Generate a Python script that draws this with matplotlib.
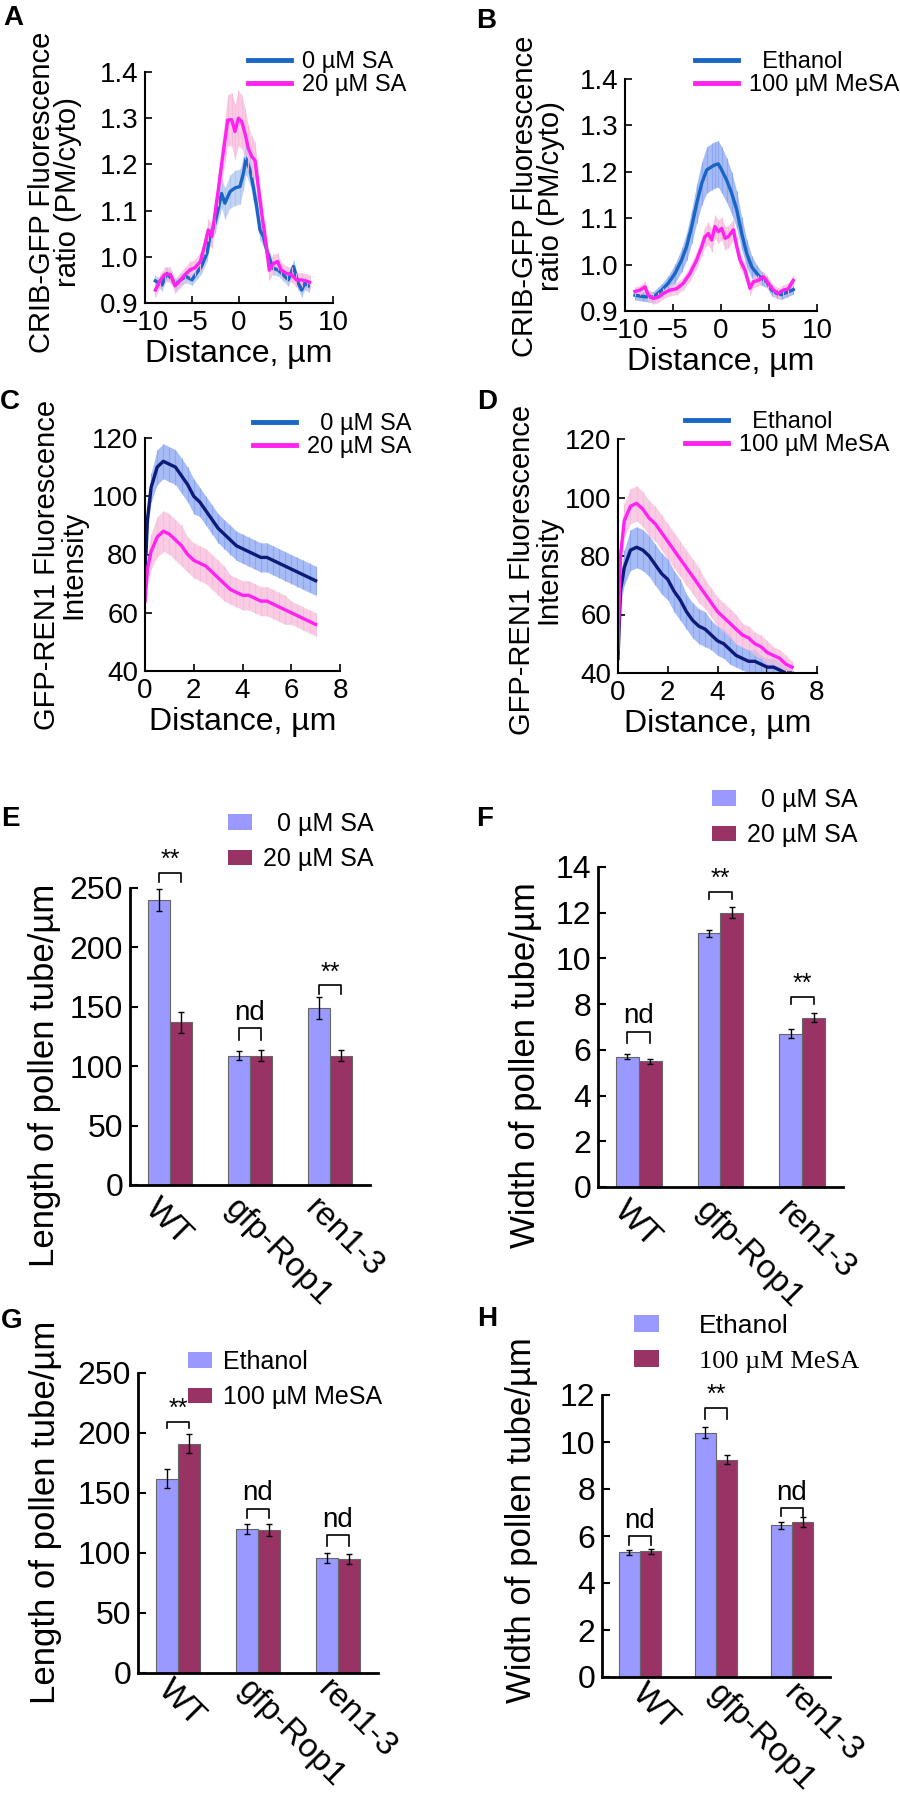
import matplotlib
matplotlib.use("Agg")
import matplotlib.pyplot as plt
from matplotlib.lines import Line2D
from matplotlib.patches import Patch
import matplotlib.transforms as mtransforms
import numpy as np

plt.rcParams['font.family'] = ['Liberation Sans', 'DejaVu Sans']
plt.rcParams['mathtext.default'] = 'regular'

# ---------------- data ----------------
# Panel A (CRIB-GFP ratio, SA)
a_x_blue = [-8.9, -8.2, -7.7, -7.2, -6.7, -6.1, -5.6, -5.0, -4.5, -4.0, -3.4, -3.1, -2.55, -2.0, -1.85, -1.5,
            -0.96, -0.43, 0.1, 0.46, 0.74, 1.17, 1.52, 1.88, 2.23, 2.59, 2.94, 3.3, 3.65, 4.2, 4.7, 5.25, 5.8,
            6.3, 6.67, 7.0, 7.4]
a_y_blue = [0.948, 0.939, 0.964, 0.953, 0.941, 0.952, 0.957, 0.950, 0.965, 0.979, 1.008, 1.044, 1.073, 1.123,
            1.137, 1.116, 1.141, 1.149, 1.152, 1.180, 1.213, 1.188, 1.152, 1.108, 1.058, 1.044, 1.015, 0.993,
            0.975, 0.971, 0.961, 0.950, 0.979, 0.943, 0.928, 0.943, 0.937]
a_e_blue = [0.012, 0.012, 0.014, 0.012, 0.012, 0.012, 0.013, 0.012, 0.014, 0.016, 0.018, 0.02, 0.022, 0.03,
            0.032, 0.034, 0.036, 0.038, 0.038, 0.036, 0.035, 0.032, 0.03, 0.026, 0.022, 0.02, 0.018, 0.016,
            0.014, 0.013, 0.013, 0.014, 0.014, 0.014, 0.015, 0.014, 0.013]
a_x_pink = [-8.9, -8.4, -7.9, -7.3, -6.8, -6.3, -5.7, -5.2, -4.7, -4.1, -3.6, -3.26, -2.9, -2.55, -2.2, -1.84,
            -1.49, -1.2, -0.78, -0.43, -0.07, 0.28, 0.64, 0.99, 1.35, 1.7, 2.05, 2.41, 2.77, 3.22, 3.65, 4.1,
            4.5, 5.07, 5.6, 6.1, 6.67, 7.2, 7.5]
a_y_pink = [0.928, 0.948, 0.962, 0.962, 0.937, 0.948, 0.962, 0.972, 0.976, 0.990, 1.029, 1.058, 1.044, 1.094,
            1.145, 1.202, 1.253, 1.296, 1.297, 1.271, 1.300, 1.293, 1.267, 1.235, 1.217, 1.209, 1.152, 1.094,
            1.044, 0.971, 0.985, 0.990, 0.971, 0.964, 0.961, 0.950, 0.950, 0.947, 0.945]
a_e_pink = [0.015, 0.015, 0.016, 0.016, 0.016, 0.016, 0.017, 0.018, 0.018, 0.02, 0.022, 0.024, 0.026, 0.03,
            0.035, 0.042, 0.048, 0.055, 0.058, 0.06, 0.06, 0.058, 0.055, 0.05, 0.045, 0.04, 0.035, 0.03,
            0.026, 0.022, 0.02, 0.018, 0.017, 0.016, 0.016, 0.016, 0.016, 0.016, 0.015]

# Panel B (CRIB-GFP ratio, MeSA)
b_x_blue = [-8.96, -8.09, -7.05, -6.18, -5.49, -4.79, -4.1, -3.58, -3.05, -2.53, -2.01, -1.49, -0.97, -0.63,
            -0.28, 0.07, 0.59, 1.11, 1.64, 2.16, 2.68, 3.2, 3.72, 4.24, 4.76, 5.28, 5.8, 6.32, 6.84, 7.53]
b_y_blue = [0.934, 0.931, 0.930, 0.945, 0.960, 0.981, 1.010, 1.039, 1.082, 1.132, 1.175, 1.204, 1.211, 1.215,
            1.217, 1.204, 1.182, 1.154, 1.118, 1.067, 1.024, 0.995, 0.981, 0.970, 0.963, 0.945, 0.938, 0.935,
            0.940, 0.946]
b_e_blue = [0.01, 0.01, 0.012, 0.014, 0.016, 0.02, 0.025, 0.03, 0.036, 0.042, 0.046, 0.05, 0.05, 0.05,
            0.05, 0.05, 0.048, 0.045, 0.04, 0.035, 0.03, 0.024, 0.018, 0.015, 0.012, 0.012, 0.01, 0.01,
            0.01, 0.01]
b_x_pink = [-8.96, -8.44, -7.92, -7.57, -7.05, -6.53, -6.0, -5.31, -4.62, -3.92, -3.23, -2.53, -2.01, -1.67,
            -1.32, -0.97, -0.63, -0.28, 0.07, 0.42, 0.76, 1.28, 1.64, 1.98, 2.5, 3.02, 3.37, 3.89, 4.41, 4.93,
            5.45, 5.97, 6.49, 7.01, 7.53]
b_y_pink = [0.942, 0.945, 0.952, 0.934, 0.927, 0.930, 0.938, 0.945, 0.948, 0.960, 0.981, 1.010, 1.039, 1.060,
            1.067, 1.053, 1.082, 1.071, 1.078, 1.057, 1.060, 1.075, 1.039, 1.010, 0.988, 0.949, 0.963, 0.966,
            0.974, 0.960, 0.945, 0.938, 0.945, 0.948, 0.966]
b_e_pink = [0.01, 0.01, 0.012, 0.012, 0.012, 0.012, 0.012, 0.012, 0.013, 0.014, 0.016, 0.018, 0.02, 0.022,
            0.024, 0.025, 0.025, 0.025, 0.025, 0.025, 0.024, 0.022, 0.02, 0.018, 0.016, 0.014, 0.013, 0.012,
            0.012, 0.012, 0.012, 0.012, 0.012, 0.012, 0.012]

# Panels C, D (GFP-REN1 intensity)
cd_x = [0.0, 0.1, 0.25, 0.5, 0.75, 1.0, 1.25, 1.5, 1.75, 2.0, 2.25, 2.5, 2.75, 3.0, 3.25, 3.5, 3.75, 4.0,
        4.25, 4.5, 4.75, 5.0, 5.25, 5.5, 5.75, 6.0, 6.25, 6.5, 6.75, 7.0]
c_blue = [72, 92, 103, 110, 112, 111, 110, 107, 104, 100, 98, 95, 92, 89, 87, 85, 83, 82, 81, 80, 79,
          79, 78, 77, 76, 75, 74, 73, 72, 71]
c_blue_e = [3, 4, 5, 6, 6, 6, 6, 6, 6, 6, 5, 5, 5, 5, 5, 5, 5, 5, 5, 5, 5, 5, 5, 5, 5, 5, 5, 5, 5, 5]
c_pink = [64, 75, 81, 86, 88, 87, 85, 83, 80, 78, 77, 76, 74, 72, 70, 68, 67, 66, 66, 65, 64, 64, 63, 62,
          61, 60, 59, 58, 57, 56]
c_pink_e = [3, 5, 6, 7, 7, 7, 7, 7, 6, 6, 6, 6, 6, 6, 6, 5, 5, 5, 5, 5, 5, 5, 5, 5, 5, 4, 4, 4, 4, 4]
d_blue = [45, 68, 76, 82, 83, 82, 80, 77, 74, 72, 68, 65, 61, 58, 56, 55, 53, 51, 50, 48, 46, 45, 44, 44,
          43, 42, 42, 41, 40, 40]
d_blue_e = [3, 5, 6, 7, 7, 7, 7, 7, 7, 7, 7, 7, 6, 6, 6, 6, 5, 5, 5, 5, 4, 4, 4, 4, 3, 3, 3, 3, 2, 2]
d_pink = [48, 80, 92, 97, 98, 96, 93, 91, 88, 85, 82, 79, 76, 73, 70, 67, 64, 61, 59, 57, 55, 53, 52, 50,
          49, 47, 46, 45, 43, 42]
d_pink_e = [3, 5, 6, 6, 6, 6, 6, 6, 6, 6, 6, 6, 6, 6, 6, 5, 5, 5, 5, 5, 5, 4, 4, 4, 4, 4, 3, 3, 3, 2]

# Bar panels
genotypes = ['WT', 'gfp-Rop1', 'ren1-3']
e_ctrl = [240, 109, 149]
e_ctrl_err = [9, 4, 9]
e_trt = [137, 109, 109]
e_trt_err = [9, 5, 5]
f_ctrl = [5.7, 11.1, 6.7]
f_ctrl_err = [0.1, 0.15, 0.2]
f_trt = [5.5, 12.0, 7.4]
f_trt_err = [0.1, 0.25, 0.2]
g_ctrl = [162, 120, 96]
g_ctrl_err = [8, 4, 4]
g_trt = [191, 119, 95]
g_trt_err = [8, 5, 4]
h_ctrl = [5.3, 10.4, 6.45]
h_ctrl_err = [0.1, 0.25, 0.15]
h_trt = [5.35, 9.25, 6.6]
h_trt_err = [0.1, 0.2, 0.2]

# significance: (group index, label, bracket top, leg bottom)
e_sig = [(0, '**', 263, 255), (1, 'nd', 132, 122), (2, '**', 168, 161)]
f_sig = [(0, 'nd', 6.8, 6.3), (1, '**', 12.9, 12.6), (2, '**', 8.3, 8.0)]
g_sig = [(0, '**', 209, 204), (1, 'nd', 137, 129), (2, 'nd', 115, 106)]
h_sig = [(0, 'nd', 6.0, 5.6), (1, '**', 11.45, 11.0), (2, 'nd', 7.2, 6.85)]

# ---------------- style ----------------
W, H = 900, 1800
fig = plt.figure(figsize=(9, 18), dpi=100)

BLUE = '#1a66c4'
NAVY = '#0d1a78'
PINK = '#ff22f0'
BLUE_BAND = '#adc6ee'
BLUE_BAND2 = '#8aa6f2'
PINK_BAND = '#f7bcdc'
BAR_BLUE = '#9999ff'
BAR_RED = '#993366'


def px_axes(x0, y0, x1, y1):
    return fig.add_axes([x0 / W, 1 - y1 / H, (x1 - x0) / W, (y1 - y0) / H])


def style_axes(ax, lw=1.5):
    for s in ['top', 'right']:
        ax.spines[s].set_visible(False)
    for s in ['left', 'bottom']:
        ax.spines[s].set_linewidth(lw)
    ax.tick_params(direction='in', length=5, width=1.2, labelsize=20, pad=5)


def line_panel(ax, curves, xlim, ylim, xticks, yticks, yfmt):
    for x, y, e, col, bcol in curves:
        x = np.asarray(x, float)
        y = np.asarray(y, float)
        e = np.asarray(e, float)
        ax.fill_between(x, y - e, y + e, color=bcol, lw=0, alpha=0.75)
        ax.errorbar(x, y, yerr=e, fmt='none', ecolor=bcol, elinewidth=0.8, alpha=0.9)
        ax.plot(x, y, color=col, lw=2.4)
    ax.set_xlim(*xlim)
    ax.set_ylim(*ylim)
    ax.set_xticks(xticks)
    ax.set_yticks(yticks)
    ax.set_yticklabels([yfmt.format(v) for v in yticks])
    ax.set_xlabel('Distance, µm', fontsize=23, labelpad=2)
    style_axes(ax)


def line_legend(ax, labels, cols, anchor_px, fs=17):
    handles = [Line2D([], [], color=c, lw=3.5) for c in cols]
    ax.legend(handles, labels, loc='upper left', frameon=False, fontsize=fs,
              bbox_to_anchor=(anchor_px[0] / W, 1 - anchor_px[1] / H), bbox_transform=fig.transFigure,
              borderpad=0, borderaxespad=0, handlelength=1.8, handletextpad=0.5, labelspacing=0.05)


def bar_panel(ax, ctrl, cerr, trt, terr, sig, ylim, yticks, lab_dx=-9, lab_pad=6):
    xs = np.arange(len(genotypes))
    w = 0.28
    ax.bar(xs - w / 2, ctrl, w, yerr=cerr, color=BAR_BLUE, edgecolor='#666666', lw=0.8,
           error_kw=dict(ecolor='black', elinewidth=1, capsize=2.5, capthick=1))
    ax.bar(xs + w / 2, trt, w, yerr=terr, color=BAR_RED, edgecolor='#666666', lw=0.8,
           error_kw=dict(ecolor='black', elinewidth=1, capsize=2.5, capthick=1))
    rng = ylim[1] - ylim[0]
    for i, lab, top, bot in sig:
        x1, x2 = i - w / 2, i + w / 2
        ax.plot([x1, x1, x2, x2], [bot, top, top, bot], color='black', lw=1.2, clip_on=False)
        if lab == '**':
            ax.text(i, top + rng * 0.003, lab, ha='center', va='bottom', fontsize=18, clip_on=False)
        else:
            ax.text(i, top + rng * 0.008, lab, ha='center', va='bottom', fontsize=20, clip_on=False)
    ax.set_xlim(-0.5, 2.5)
    ax.set_ylim(*ylim)
    ax.set_yticks(yticks)
    ax.set_xticks(xs)
    for s in ['top', 'right']:
        ax.spines[s].set_visible(False)
    for s in ['left', 'bottom']:
        ax.spines[s].set_linewidth(2)
    ax.tick_params(axis='y', direction='in', length=6, width=1.5, labelsize=23, pad=5)
    ax.tick_params(axis='x', length=0, labelsize=24, pad=lab_pad)
    offset = mtransforms.ScaledTranslation(lab_dx / 100, 0, fig.dpi_scale_trans)
    ax.set_xticklabels(genotypes, rotation=-45, ha='left', va='top', rotation_mode='anchor')
    for lbl in ax.get_xticklabels():
        lbl.set_transform(lbl.get_transform() + offset)


def bar_legend(ax, labels, anchor_px, fs=18, textpad=0.45, lspace=0.45):
    handles = [Patch(facecolor=BAR_BLUE, edgecolor='none'), Patch(facecolor=BAR_RED, edgecolor='none')]
    return ax.legend(handles, labels, loc='upper left', frameon=False, fontsize=fs,
                     bbox_to_anchor=(anchor_px[0] / W, 1 - anchor_px[1] / H), bbox_transform=fig.transFigure,
                     borderpad=0, borderaxespad=0, handlelength=0.95, handleheight=0.6,
                     handletextpad=textpad, labelspacing=lspace)


def ylabel_at(ax, text, cx, cy, fs, ls=0.95):
    ax.set_ylabel(text, fontsize=fs, linespacing=ls)
    ax.yaxis.set_label_coords(cx / W, 1 - cy / H, transform=fig.transFigure)
    ax.yaxis.label.set_va('center')
    ax.yaxis.label.set_ha('center')


# ---------------- Panel A ----------------
axA = px_axes(145, 72, 333, 303)
line_panel(axA, [(a_x_blue, a_y_blue, a_e_blue, BLUE, BLUE_BAND),
                 (a_x_pink, a_y_pink, a_e_pink, PINK, PINK_BAND)],
           (-10, 10), (0.9, 1.4), [-10, -5, 0, 5, 10], [0.9, 1.0, 1.1, 1.2, 1.3, 1.4], '{:.1f}')
ylabel_at(axA, 'CRIB-GFP Fluorescence\nratio (PM/cyto)', 55, 192, 21)
line_legend(axA, ['0 µM SA', '20 µM SA'], [BLUE, PINK], (248, 51))

# ---------------- Panel B ----------------
axB = px_axes(625, 79, 817, 311)
line_panel(axB, [(b_x_blue, b_y_blue, b_e_blue, BLUE, BLUE_BAND2),
                 (b_x_pink, b_y_pink, b_e_pink, PINK, PINK_BAND)],
           (-10, 10), (0.9, 1.4), [-10, -5, 0, 5, 10], [0.9, 1.0, 1.1, 1.2, 1.3, 1.4], '{:.1f}')
ylabel_at(axB, 'CRIB-GFP Fluorescence\nratio (PM/cyto)', 538, 196, 21)
line_legend(axB, ['  Ethanol', '100 µM MeSA'], [BLUE, PINK], (695, 51))

# ---------------- Panel C ----------------
axC = px_axes(145, 438, 340, 671)
line_panel(axC, [(cd_x, c_blue, c_blue_e, NAVY, BLUE_BAND2),
                 (cd_x, c_pink, c_pink_e, PINK, PINK_BAND)],
           (0, 8), (40, 120), [0, 2, 4, 6, 8], [40, 60, 80, 100, 120], '{:d}')
ylabel_at(axC, 'GFP-REN1 Fluorescence\nIntensity', 60, 565, 21)
line_legend(axC, ['  0 µM SA', '20 µM SA'], [BLUE, PINK], (253, 413))

# ---------------- Panel D ----------------
axD = px_axes(618, 439, 817, 673)
line_panel(axD, [(cd_x, d_blue, d_blue_e, NAVY, BLUE_BAND2),
                 (cd_x, d_pink, d_pink_e, PINK, PINK_BAND)],
           (0, 8), (40, 120), [0, 2, 4, 6, 8], [40, 60, 80, 100, 120], '{:d}')
ylabel_at(axD, 'GFP-REN1 Fluorescence\nIntensity', 535, 570, 21)
line_legend(axD, ['  Ethanol', '100 µM MeSA'], [BLUE, PINK], (685, 411))

# ---------------- Panel E ----------------
axE = px_axes(130, 888, 370, 1185)
bar_panel(axE, e_ctrl, e_ctrl_err, e_trt, e_trt_err, e_sig, (0, 250), [0, 50, 100, 150, 200, 250])
ylabel_at(axE, 'Length of pollen tube/µm', 45, 1075, 25)
bar_legend(axE, ['  0 µM SA', '20 µM SA'], (228, 812))

# ---------------- Panel F ----------------
axF = px_axes(598, 867, 843, 1187)
bar_panel(axF, f_ctrl, f_ctrl_err, f_trt, f_trt_err, f_sig, (0, 14), [0, 2, 4, 6, 8, 10, 12, 14])
ylabel_at(axF, 'Width of pollen tube/µm', 525, 1065, 25)
bar_legend(axF, ['  0 µM SA', '20 µM SA'], (712, 788))

# ---------------- Panel G ----------------
axG = px_axes(138, 1373, 378, 1673)
bar_panel(axG, g_ctrl, g_ctrl_err, g_trt, g_trt_err, g_sig, (0, 250), [0, 50, 100, 150, 200, 250],
          lab_dx=-4, lab_pad=1)
ylabel_at(axG, 'Length of pollen tube/µm', 46, 1512, 25)
bar_legend(axG, ['Ethanol', '100 µM MeSA'], (188, 1350))

# ---------------- Panel H ----------------
axH = px_axes(602, 1395, 830, 1677)
bar_panel(axH, h_ctrl, h_ctrl_err, h_trt, h_trt_err, h_sig, (0, 12), [0, 2, 4, 6, 8, 10, 12],
          lab_dx=8, lab_pad=1)
ylabel_at(axH, 'Width of pollen tube/µm', 522, 1520, 25)
legH = bar_legend(axH, ['Ethanol', '100 µM MeSA'], (634, 1314), fs=19, textpad=1.5)
legH.get_texts()[1].set_fontfamily(['Liberation Serif', 'DejaVu Serif'])

# ---------------- panel letters ----------------
for letter, x, y in [('A', 3, 5), ('B', 476, 8), ('C', 0, 389), ('D', 477, 389),
                     ('E', 1, 806), ('F', 476, 806), ('G', 1, 1308), ('H', 477, 1306)]:
    fig.text(x / W, 1 - y / H, letter, fontsize=20, fontweight='bold', ha='left', va='top')

fig.savefig('out.png', dpi=100)
